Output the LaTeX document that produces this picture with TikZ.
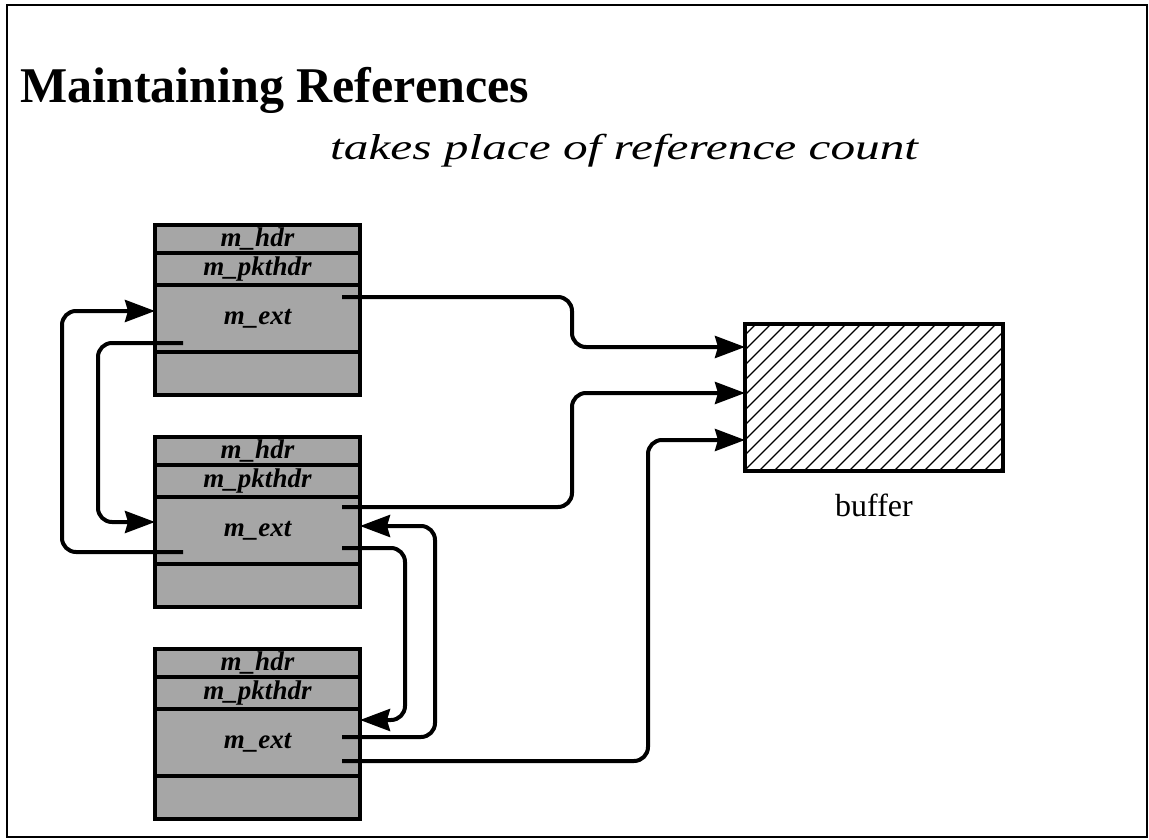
\documentclass[tikz,border=0pt]{standalone}
\usepackage{fontspec}
\setmainfont{Liberation Serif}
\usetikzlibrary{arrows.meta}
\definecolor{boxgray}{HTML}{A6A6A6}
\tikzset{
  row/.style={draw, line width=3.5pt, fill=boxgray, minimum width=205pt, inner sep=0pt, outer sep=0pt, anchor=north west, font=\bfseries\itshape\fontsize{27}{27}\selectfont},
  ptr/.style={line width=4pt, rounded corners=14pt},
  tip/.style={-{Stealth[length=30pt,width=22pt,inset=3pt]}},
  hatch/.style={line width=1.3pt}
}
\begin{document}
\begin{tikzpicture}[x=1pt,y=-1pt]
\useasboundingbox (0,0) rectangle (1149,840);
\draw[line width=2.5pt] (7,5) rectangle (1147,837);
% title and note
\node[anchor=base west, inner sep=0pt, font=\bfseries\fontsize{50}{50}\selectfont] (title) at (20,103) {Maintaining References};
\node[anchor=base west, inner sep=0pt, font=\itshape\fontsize{36}{36}\selectfont] (note) at (330,160) {\scalebox{1.37}[1]{takes place of reference count}};
% mbuf boxes
\foreach \b/\t in {1/225,2/437,3/649}{
  \node[row, minimum height=28pt] (b\b-hdr) at (155,\t) {m\_hdr};
  \node[row, minimum height=32pt] (b\b-pkt) at (155,\t+28) {m\_pkthdr};
  \node[row, minimum height=67pt] (b\b-ext) at (155,\t+60) {m\_ext};
  \node[row, minimum height=43pt] (b\b-bot) at (155,\t+127) {};
}
% buffer
\node[minimum width=258pt, minimum height=147pt, inner sep=0pt, outer sep=0pt, anchor=north west] (buf) at (745,324) {};
\begin{scope}
  \clip (buf.south west) rectangle (buf.north east);
  \foreach \i in {0,15,...,420}{
    \draw[hatch] (600+\i,480) -- ++(170,-170);
  }
\end{scope}
\draw[line width=3.5pt] (buf.south west) rectangle (buf.north east);
\node[anchor=base, inner sep=0pt, font=\fontsize{32}{32}\selectfont] (buflabel) at (874,516) {buffer};
% pointer starts
\coordinate (p1r) at (342,297);
\coordinate (p1l) at (183,343);
\coordinate (p2ra) at (342,507);
\coordinate (p2rb) at (342,548);
\coordinate (p2l) at (183,552);
\coordinate (p3ra) at (342,737);
\coordinate (p3rb) at (342,761);
% connectors
\draw[ptr,tip] (p1r) -- (572,297) -- (572,347) -- (buf.west |- 0,347);
\draw[ptr,tip] (p2ra) -- (572,507) -- (572,393) -- (buf.west |- 0,393);
\draw[ptr,tip] (p3rb) -- (648,761) -- (648,440) -- (buf.west |- 0,440);
\draw[ptr,tip] (p1l) -- (98,343) -- (98,522) -- (b2-ext.west |- 0,522);
\draw[ptr,tip] (p2l) -- (62,552) -- (62,311) -- (b1-ext.west |- 0,311);
\draw[ptr,tip] (p2rb) -- (405,548) -- (405,720) -- (b3-ext.east |- 0,720);
\draw[ptr,tip] (p3ra) -- (435,737) -- (435,526) -- (b2-ext.east |- 0,526);
\end{tikzpicture}
\end{document}
